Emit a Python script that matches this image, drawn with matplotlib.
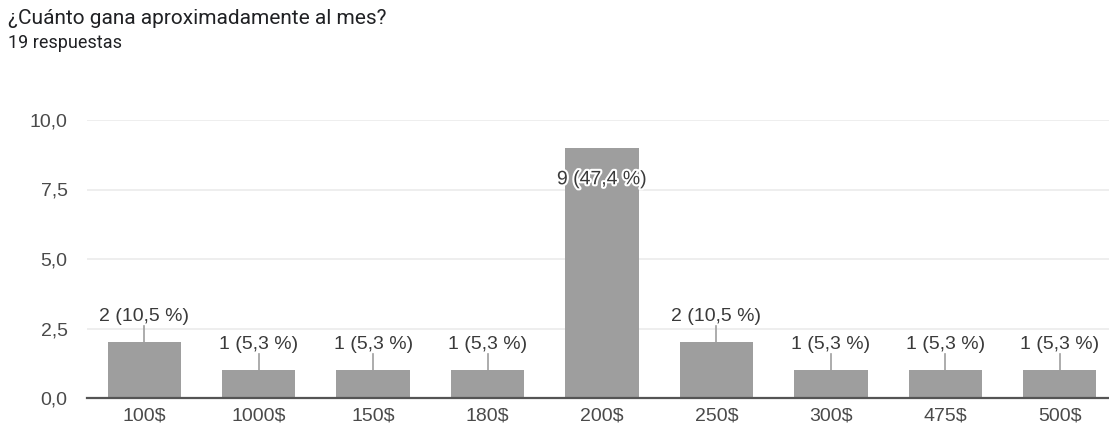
"""
plot.py — Google Forms style bar chart: monthly income.
"""

import matplotlib
matplotlib.use("Agg")
import matplotlib.pyplot as plt
import matplotlib.patheffects as pe

plt.rcParams["font.family"] = ["Liberation Sans", "DejaVu Sans"]

categories = ["100$", "1000$", "150$", "180$", "200$", "250$", "300$", "475$", "500$"]
counts = [2, 1, 1, 1, 9, 2, 1, 1, 1]
percents = ["10,5", "5,3", "5,3", "5,3", "47,4", "10,5", "5,3", "5,3", "5,3"]
yticks = [0, 2.5, 5, 7.5, 10]
ytick_labels = ["0,0", "2,5", "5,0", "7,5", "10,0"]

fig = plt.figure(figsize=(11.09, 4.28), dpi=100)
ax = fig.add_axes([87 / 1109, 30 / 428, 1030 / 1109, 278 / 428])

x = range(len(categories))
ax.bar(x, counts, width=0.64, color="#9e9e9e", zorder=2)

ax.set_ylim(0, 10)
ax.set_xlim(-0.5, len(categories) - 0.5)
ax.set_yticks(yticks)
ax.set_yticklabels(ytick_labels)
ax.set_xticks(list(x))
ax.set_xticklabels(categories)
ax.tick_params(axis="both", length=0, labelsize=14, colors="#4a4a4a", pad=7)
ax.tick_params(axis="y", pad=14)
ax.grid(axis="y", color="#ebebeb", lw=1.2, zorder=0)
for s in ["top", "right", "left"]:
    ax.spines[s].set_visible(False)
ax.spines["bottom"].set_color("#555555")
ax.spines["bottom"].set_linewidth(1.6)
ax.spines["bottom"].set_zorder(3)

for i, (c, p) in enumerate(zip(counts, percents)):
    lbl = f"{c} ({p} %)"
    if c >= 5:
        ax.text(i, c - 1.15, lbl, ha="center", va="center", fontsize=14,
                color="#3a3a3a", zorder=4,
                path_effects=[pe.withStroke(linewidth=3, foreground="white")])
    else:
        ax.plot([i, i], [c, c + 0.6], color="#9e9e9e", lw=1.2, zorder=2)
        ax.text(i, c + 0.92, lbl, ha="center", va="center", fontsize=14,
                color="#3a3a3a", zorder=4)

fig.text(8 / 1109, 1 - 18 / 428, "¿Cuánto gana aproximadamente al mes?",
         fontsize=15, color="#202124", va="center", ha="left",
         family=["Roboto", "DejaVu Sans"])
fig.text(8 / 1109, 1 - 43 / 428, "19 respuestas", fontsize=13,
         color="#202124", va="center", ha="left",
         family=["Roboto", "DejaVu Sans"])

fig.savefig("out.png", dpi=100, facecolor="white")
